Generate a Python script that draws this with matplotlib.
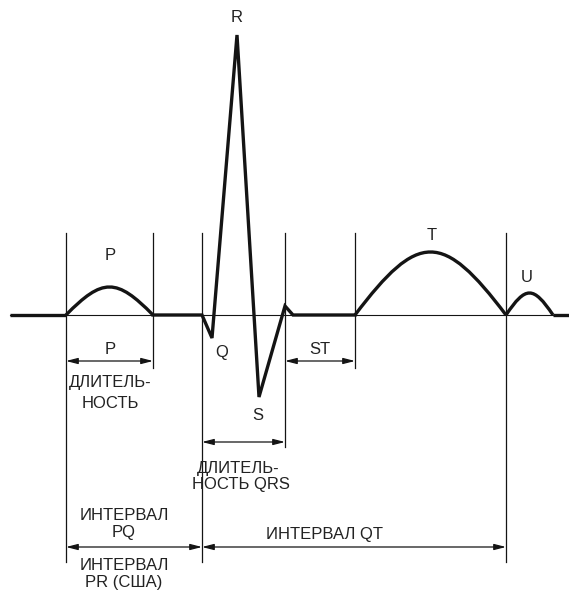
import matplotlib.pyplot as plt
from matplotlib.path import Path
from matplotlib.patches import PathPatch

plt.rcParams['font.family'] = ['Liberation Sans', 'DejaVu Sans']

# time axis in px-like units, amplitude relative to the isoline
trace_start, trace_end = 10, 569
# smooth waves: (onset, offset, peak amplitude)
p_wave = (66, 153, 28)
t_wave = (355, 506, 63)
u_wave = (506, 553, 22)
# QRS complex vertices
qrs_t = [153, 202, 212, 237, 259, 285, 293, 355]
qrs_a = [0, 0, -23, 280, -82, 9, 0, 0]

# boundary lines: (x, top, bottom)
bounds = [(66, 82, -247), (153, 82, -53), (202, 82, -247),
          (285, 82, -132), (355, 82, -53), (506, 82, -247)]
# interval arrows: (x0, x1, level)
arrows = [(66, 153, -46), (202, 285, -127), (285, 355, -46),
          (66, 202, -232), (202, 506, -232)]

wave_labels = [("P", 110, 59), ("T", 432, 80), ("U", 527, 38),
               ("R", 237, 297), ("Q", 222, -37), ("S", 258, -101)]
notes = [("P", 110, -35), ("ДЛИТЕЛЬ-", 110, -68), ("НОСТЬ", 110, -89),
         ("ST", 320, -35),
         ("ДЛИТЕЛЬ-", 238, -153), ("НОСТЬ QRS", 241, -169),
         ("ИНТЕРВАЛ", 124, -201), ("PQ", 124, -217),
         ("ИНТЕРВАЛ", 124, -250), ("PR (США)", 124, -268),
         ("ИНТЕРВАЛ QT", 325, -220)]

INK = '#141414'

fig = plt.figure(figsize=(5.69, 5.94), dpi=100)
ax = fig.add_axes([0, 0, 1, 1])
ax.set_xlim(0, 569)
ax.set_ylim(-279, 315)
ax.axis('off')


def wave_path(onset, offset, peak):
    w = offset - onset
    c = peak / 0.75
    k = 0.42 * w
    verts = [(onset, 0), (onset + k, c), (offset - k, c), (offset, 0)]
    return Path(verts, [Path.MOVETO, Path.CURVE4, Path.CURVE4, Path.CURVE4])


# thin isoline
ax.plot([trace_start, trace_end], [0, 0], color=INK, lw=0.8)

# thick trace
ax.plot([trace_start, p_wave[0]], [0, 0], color=INK, lw=2.4, solid_capstyle='butt')
ax.plot(qrs_t, qrs_a, color=INK, lw=2.4, solid_joinstyle='miter')
ax.plot([u_wave[1], trace_end], [0, 0], color=INK, lw=2.4, solid_capstyle='butt')
for wv in (p_wave, t_wave, u_wave):
    ax.add_patch(PathPatch(wave_path(*wv), fill=False, edgecolor=INK, lw=2.4))

for x, top, bot in bounds:
    ax.plot([x, x], [top, bot], color=INK, lw=0.9)

for x0, x1, lev in arrows:
    ax.annotate('', xy=(x1, lev), xytext=(x0, lev),
                arrowprops=dict(arrowstyle='<|-|>,head_length=0.7,head_width=0.18',
                                color=INK, lw=0.9, shrinkA=0, shrinkB=0))

for s, x, y in wave_labels:
    ax.text(x, y, s, ha='center', va='center', fontsize=12, color='#222222')
for s, x, y in notes:
    ax.text(x, y, s, ha='center', va='center', fontsize=12, color='#222222')

fig.savefig('out.png', dpi=100)
